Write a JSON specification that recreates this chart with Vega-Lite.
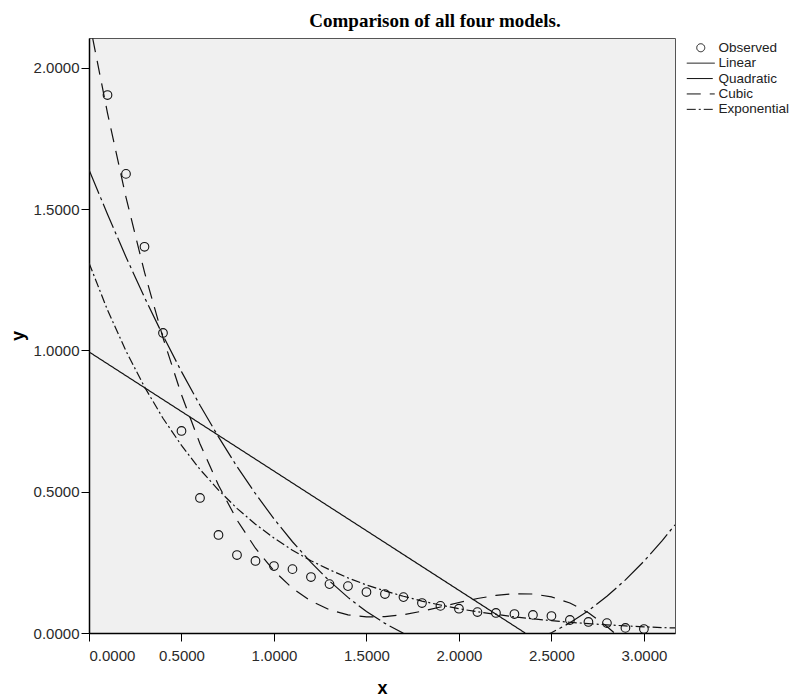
{
  "$schema": "https://vega.github.io/schema/vega-lite/v6.json",
  "autosize": {"type": "none"},
  "width": 586,
  "height": 595,
  "padding": {"left": 89, "top": 38, "right": 122, "bottom": 63},
  "background": "white",
  "title": {
    "text": "Comparison of all four models.",
    "font": "Liberation Serif",
    "fontSize": 19,
    "fontWeight": "bold",
    "color": "#000000",
    "anchor": "middle",
    "frame": "group",
    "baseline": "alphabetic",
    "offset": 10,
    "dx": 53,
    "dy": 18
  },
  "config": {
    "view": {"fill": "#f0f0f0", "stroke": "#555555", "strokeWidth": 1},
    "axis": {
      "grid": false,
      "labelFont": "Liberation Sans",
      "labelFontSize": 15,
      "labelColor": "#2a2a2a",
      "tickColor": "#000000",
      "tickSize": 8,
      "domainColor": "#000000",
      "domainWidth": 1.5,
      "titleFont": "Liberation Sans",
      "titleFontSize": 18,
      "titleFontWeight": "bold",
      "titleColor": "#000000"
    },
    "legend": {
      "title": null,
      "orient": "none",
      "legendX": 605,
      "legendY": 3,
      "padding": 0,
      "symbolSize": 64,
      "symbolStrokeWidth": 1,
      "symbolStrokeColor": "#111111",
      "symbolFillColor": "transparent",
      "labelFont": "Liberation Sans",
      "labelFontSize": 13.5,
      "labelColor": "#222222",
      "labelOffset": 11,
      "rowPadding": 0.4
    }
  },
  "datasets": {
    "observed": [
      {"series": "Observed", "x": 0.1, "y": 1.904},
      {"series": "Observed", "x": 0.2, "y": 1.625},
      {"series": "Observed", "x": 0.3, "y": 1.367},
      {"series": "Observed", "x": 0.4, "y": 1.062},
      {"series": "Observed", "x": 0.5, "y": 0.715},
      {"series": "Observed", "x": 0.6, "y": 0.478},
      {"series": "Observed", "x": 0.7, "y": 0.347},
      {"series": "Observed", "x": 0.8, "y": 0.276},
      {"series": "Observed", "x": 0.9, "y": 0.255},
      {"series": "Observed", "x": 1.0, "y": 0.237},
      {"series": "Observed", "x": 1.1, "y": 0.226},
      {"series": "Observed", "x": 1.2, "y": 0.198},
      {"series": "Observed", "x": 1.3, "y": 0.173},
      {"series": "Observed", "x": 1.4, "y": 0.166},
      {"series": "Observed", "x": 1.5, "y": 0.145},
      {"series": "Observed", "x": 1.6, "y": 0.138},
      {"series": "Observed", "x": 1.7, "y": 0.127},
      {"series": "Observed", "x": 1.8, "y": 0.106},
      {"series": "Observed", "x": 1.9, "y": 0.096},
      {"series": "Observed", "x": 2.0, "y": 0.086},
      {"series": "Observed", "x": 2.1, "y": 0.074},
      {"series": "Observed", "x": 2.2, "y": 0.071},
      {"series": "Observed", "x": 2.3, "y": 0.067},
      {"series": "Observed", "x": 2.4, "y": 0.064},
      {"series": "Observed", "x": 2.5, "y": 0.060},
      {"series": "Observed", "x": 2.6, "y": 0.046},
      {"series": "Observed", "x": 2.7, "y": 0.039},
      {"series": "Observed", "x": 2.8, "y": 0.035},
      {"series": "Observed", "x": 2.9, "y": 0.018},
      {"series": "Observed", "x": 3.0, "y": 0.014}
    ],
    "curves": [
      {"series": "Linear", "x": 0.0, "y": 0.995},
      {"series": "Linear", "x": 2.358, "y": 0.0},

      {"series": "Quadratic", "x": 0.0, "y": 1.640},
      {"series": "Quadratic", "x": 0.1, "y": 1.482},
      {"series": "Quadratic", "x": 0.2, "y": 1.331},
      {"series": "Quadratic", "x": 0.3, "y": 1.188},
      {"series": "Quadratic", "x": 0.4, "y": 1.053},
      {"series": "Quadratic", "x": 0.5, "y": 0.925},
      {"series": "Quadratic", "x": 0.6, "y": 0.806},
      {"series": "Quadratic", "x": 0.7, "y": 0.694},
      {"series": "Quadratic", "x": 0.8, "y": 0.589},
      {"series": "Quadratic", "x": 0.9, "y": 0.493},
      {"series": "Quadratic", "x": 1.0, "y": 0.404},
      {"series": "Quadratic", "x": 1.1, "y": 0.323},
      {"series": "Quadratic", "x": 1.2, "y": 0.250},
      {"series": "Quadratic", "x": 1.3, "y": 0.184},
      {"series": "Quadratic", "x": 1.4, "y": 0.126},
      {"series": "Quadratic", "x": 1.5, "y": 0.076},
      {"series": "Quadratic", "x": 1.6, "y": 0.034},
      {"series": "Quadratic", "x": 1.7, "y": -0.001},
      {"series": "Quadratic", "x": 1.8, "y": -0.028},
      {"series": "Quadratic", "x": 1.9, "y": -0.047},
      {"series": "Quadratic", "x": 2.0, "y": -0.058},
      {"series": "Quadratic", "x": 2.1, "y": -0.062},
      {"series": "Quadratic", "x": 2.2, "y": -0.058},
      {"series": "Quadratic", "x": 2.3, "y": -0.046},
      {"series": "Quadratic", "x": 2.4, "y": -0.026},
      {"series": "Quadratic", "x": 2.5, "y": 0.001},
      {"series": "Quadratic", "x": 2.6, "y": 0.036},
      {"series": "Quadratic", "x": 2.7, "y": 0.079},
      {"series": "Quadratic", "x": 2.8, "y": 0.130},
      {"series": "Quadratic", "x": 2.9, "y": 0.188},
      {"series": "Quadratic", "x": 3.0, "y": 0.254},
      {"series": "Quadratic", "x": 3.1, "y": 0.328},
      {"series": "Quadratic", "x": 3.168, "y": 0.383},

      {"series": "Cubic", "x": 0.02, "y": 2.105},
      {"series": "Cubic", "x": 0.1, "y": 1.840},
      {"series": "Cubic", "x": 0.2, "y": 1.542},
      {"series": "Cubic", "x": 0.3, "y": 1.277},
      {"series": "Cubic", "x": 0.4, "y": 1.045},
      {"series": "Cubic", "x": 0.5, "y": 0.843},
      {"series": "Cubic", "x": 0.6, "y": 0.670},
      {"series": "Cubic", "x": 0.7, "y": 0.523},
      {"series": "Cubic", "x": 0.8, "y": 0.400},
      {"series": "Cubic", "x": 0.9, "y": 0.300},
      {"series": "Cubic", "x": 1.0, "y": 0.220},
      {"series": "Cubic", "x": 1.1, "y": 0.158},
      {"series": "Cubic", "x": 1.2, "y": 0.113},
      {"series": "Cubic", "x": 1.3, "y": 0.082},
      {"series": "Cubic", "x": 1.4, "y": 0.064},
      {"series": "Cubic", "x": 1.5, "y": 0.057},
      {"series": "Cubic", "x": 1.6, "y": 0.058},
      {"series": "Cubic", "x": 1.7, "y": 0.065},
      {"series": "Cubic", "x": 1.8, "y": 0.077},
      {"series": "Cubic", "x": 1.9, "y": 0.092},
      {"series": "Cubic", "x": 2.0, "y": 0.108},
      {"series": "Cubic", "x": 2.1, "y": 0.122},
      {"series": "Cubic", "x": 2.2, "y": 0.133},
      {"series": "Cubic", "x": 2.3, "y": 0.139},
      {"series": "Cubic", "x": 2.4, "y": 0.138},
      {"series": "Cubic", "x": 2.5, "y": 0.128},
      {"series": "Cubic", "x": 2.6, "y": 0.106},
      {"series": "Cubic", "x": 2.7, "y": 0.072},
      {"series": "Cubic", "x": 2.8, "y": 0.023},
      {"series": "Cubic", "x": 2.84, "y": 0.0},

      {"series": "Exponential", "x": 0.0, "y": 1.310},
      {"series": "Exponential", "x": 0.1, "y": 1.143},
      {"series": "Exponential", "x": 0.2, "y": 0.998},
      {"series": "Exponential", "x": 0.3, "y": 0.871},
      {"series": "Exponential", "x": 0.4, "y": 0.760},
      {"series": "Exponential", "x": 0.5, "y": 0.664},
      {"series": "Exponential", "x": 0.6, "y": 0.579},
      {"series": "Exponential", "x": 0.7, "y": 0.506},
      {"series": "Exponential", "x": 0.8, "y": 0.441},
      {"series": "Exponential", "x": 0.9, "y": 0.385},
      {"series": "Exponential", "x": 1.0, "y": 0.336},
      {"series": "Exponential", "x": 1.1, "y": 0.293},
      {"series": "Exponential", "x": 1.2, "y": 0.256},
      {"series": "Exponential", "x": 1.3, "y": 0.224},
      {"series": "Exponential", "x": 1.4, "y": 0.195},
      {"series": "Exponential", "x": 1.5, "y": 0.170},
      {"series": "Exponential", "x": 1.6, "y": 0.149},
      {"series": "Exponential", "x": 1.7, "y": 0.130},
      {"series": "Exponential", "x": 1.8, "y": 0.113},
      {"series": "Exponential", "x": 1.9, "y": 0.099},
      {"series": "Exponential", "x": 2.0, "y": 0.086},
      {"series": "Exponential", "x": 2.1, "y": 0.075},
      {"series": "Exponential", "x": 2.2, "y": 0.066},
      {"series": "Exponential", "x": 2.3, "y": 0.057},
      {"series": "Exponential", "x": 2.4, "y": 0.050},
      {"series": "Exponential", "x": 2.5, "y": 0.044},
      {"series": "Exponential", "x": 2.6, "y": 0.038},
      {"series": "Exponential", "x": 2.7, "y": 0.033},
      {"series": "Exponential", "x": 2.8, "y": 0.029},
      {"series": "Exponential", "x": 2.9, "y": 0.025},
      {"series": "Exponential", "x": 3.0, "y": 0.022},
      {"series": "Exponential", "x": 3.1, "y": 0.019},
      {"series": "Exponential", "x": 3.168, "y": 0.018}
    ]
  },
  "encoding": {
    "x": {
      "field": "x",
      "type": "quantitative",
      "scale": {"domain": [0, 3.168], "nice": false, "zero": false},
      "axis": {
        "title": "x",
        "values": [0, 0.5, 1, 1.5, 2, 2.5, 3],
        "format": ".4f",
        "labelPadding": 7,
        "titlePadding": 16
      }
    },
    "y": {
      "field": "y",
      "type": "quantitative",
      "scale": {"domain": [0, 2.106], "nice": false, "zero": false},
      "axis": {
        "title": "y",
        "values": [0, 0.5, 1, 1.5, 2],
        "format": ".4f",
        "labelPadding": 2,
        "titlePadding": 6
      }
    }
  },
  "layer": [
    {
      "data": {"name": "curves"},
      "mark": {"type": "line", "clip": true, "color": "#111111", "strokeWidth": 1.2},
      "encoding": {
        "detail": {"field": "series", "type": "nominal"},
        "order": {"field": "x", "type": "quantitative"},
        "strokeDash": {
          "field": "series",
          "type": "nominal",
          "title": null,
          "scale": {
            "domain": ["Observed", "Linear", "Quadratic", "Cubic", "Exponential"],
            "range": [[1, 0], [1, 0], [26, 4, 3, 4], [14, 9], [9, 3, 2, 3]]
          }
        }
      }
    },
    {
      "data": {"name": "observed"},
      "mark": {"type": "point", "filled": false, "color": "#111111", "strokeWidth": 1.1, "size": 75, "opacity": 1},
      "encoding": {
        "shape": {
          "field": "series",
          "type": "nominal",
          "title": null,
          "scale": {
            "domain": ["Observed", "Linear", "Quadratic", "Cubic", "Exponential"],
            "range": ["circle", "M-3.5,0L3.5,0", "M-3.5,0L3.5,0", "M-3.5,0L3.5,0", "M-3.5,0L3.5,0"]
          }
        }
      }
    }
  ]
}
